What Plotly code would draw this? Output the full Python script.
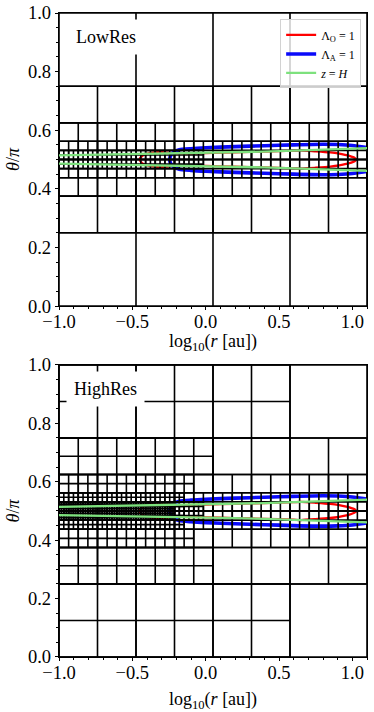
import plotly.graph_objects as go
from plotly.subplots import make_subplots

# domain of the mesh (log10 r, theta/pi) and root grid
X_MIN, X_MAX = -1.0, 1.1
Y_MIN, Y_MAX = 0.0, 1.0
NX_ROOT, NY_ROOT = 4, 4

# refined regions per level: (x_lo, x_hi, y_lo, y_hi)
lowres_levels = [
    (0, [(-1.0, 1.1, 0.0, 1.0)]),
    (1, [(-1.0, 1.1, 0.25, 0.75)]),
    (2, [(-1.0, 1.1, 0.375, 0.625)]),
    (3, [(-1.0, 1.1, 0.4375, 0.5625)]),
    (4, [(-1.0, -0.016, 0.46875, 0.53125)]),
]
highres_levels = [
    (0, [(-1.0, 1.1, 0.0, 1.0)]),
    (1, [(-1.0, 0.575, 0.75, 1.0), (-1.0, 1.1, 0.25, 0.75), (-1.0, 0.575, 0.0, 0.25)]),
    (2, [(-1.0, 0.05, 0.625, 0.75), (-1.0, 1.1, 0.375, 0.625), (-1.0, 0.05, 0.25, 0.375)]),
    (3, [(-1.0, -0.081, 0.5625, 0.625), (-1.0, 1.1, 0.4375, 0.5625), (-1.0, -0.081, 0.375, 0.4375)]),
    (4, [(-1.0, -0.147, 0.4375, 0.5625), (-1.0, -0.016, 0.46875, 0.53125)]),
    (5, [(-1.0, -0.2125, 0.46875, 0.53125)]),
]

# z = H surface
h_x = [-1.0, -0.8, -0.6, -0.4, -0.2, 0.0, 0.2, 0.4, 0.6, 0.8, 1.0, 1.1]
h_up = [0.514, 0.5155, 0.517, 0.5185, 0.520, 0.522, 0.5245, 0.527, 0.530, 0.5335, 0.537, 0.539]
h_lo = [0.486, 0.4845, 0.483, 0.4815, 0.480, 0.478, 0.4755, 0.473, 0.470, 0.4665, 0.463, 0.461]

# Lambda_A = 1 contour (open to the right)
amb_x = [1.1, 1.0, 0.9, 0.8, 0.6, 0.4, 0.2, 0.0, -0.1, -0.18, -0.22, -0.24, -0.245,
         -0.24, -0.22, -0.18, -0.1, 0.0, 0.2, 0.4, 0.6, 0.8, 0.9, 1.0, 1.1]
amb_y = [0.541, 0.548, 0.551, 0.552, 0.550, 0.547, 0.544, 0.540, 0.537, 0.533, 0.525, 0.512, 0.500,
         0.488, 0.475, 0.467, 0.463, 0.460, 0.456, 0.453, 0.450, 0.448, 0.449, 0.452, 0.459]

# Lambda_O = 1 contour (closed)
ohm_x = [-0.45, -0.44, -0.42, -0.39, -0.35, -0.3, -0.25, -0.2, 0.0, 0.2, 0.4, 0.6, 0.65, 0.75,
         0.85, 0.91, 0.95, 0.98, 1.005, 1.02, 1.03,
         1.02, 1.005, 0.98, 0.95, 0.91, 0.85, 0.75, 0.65, 0.6, 0.4, 0.2, 0.0, -0.2, -0.25, -0.3, -0.35,
         -0.39, -0.42, -0.44, -0.45]
ohm_y = [0.500, 0.509, 0.516, 0.521, 0.524, 0.525, 0.523, 0.520, 0.522, 0.5245, 0.527, 0.530, 0.531, 0.528,
         0.524, 0.520, 0.516, 0.5125, 0.508, 0.504, 0.500,
         0.496, 0.492, 0.4875, 0.484, 0.480, 0.476, 0.472, 0.469, 0.470, 0.473, 0.4755, 0.478, 0.480,
         0.477, 0.475, 0.476, 0.479, 0.484, 0.491, 0.500]

x_ticks = [-1.0, -0.5, 0.0, 0.5, 1.0]
y_ticks = [0.0, 0.2, 0.4, 0.6, 0.8, 1.0]
panel_names = ["LowRes", "HighRes"]

FONT = "Liberation Serif"


def mesh_lines(levels):
    xs, ys = [], []
    for lev, regions in levels:
        dx = (X_MAX - X_MIN) / (NX_ROOT * 2 ** lev)
        dy = (Y_MAX - Y_MIN) / (NY_ROOT * 2 ** lev)
        for xa, xb, ya, yb in regions:
            i0, i1 = round((xa - X_MIN) / dx), round((xb - X_MIN) / dx)
            j0, j1 = round((ya - Y_MIN) / dy), round((yb - Y_MIN) / dy)
            x0, x1 = X_MIN + i0 * dx, X_MIN + i1 * dx
            y0, y1 = Y_MIN + j0 * dy, Y_MIN + j1 * dy
            for i in range(i0, i1 + 1):
                xv = X_MIN + i * dx
                xs += [xv, xv, None]
                ys += [y0, y1, None]
            for j in range(j0, j1 + 1):
                yv = Y_MIN + j * dy
                xs += [x0, x1, None]
                ys += [yv, yv, None]
    return xs, ys


fig = make_subplots(rows=2, cols=1)

for row, levels in enumerate([lowres_levels, highres_levels], start=1):
    first = row == 1
    fig.add_trace(go.Scatter(x=ohm_x, y=ohm_y, mode="lines",
                             line=dict(color="red", width=2.3, shape="spline", smoothing=0.6),
                             name="Λ<sub>O</sub> = 1", showlegend=first, legendrank=1),
                  row=row, col=1)
    fig.add_trace(go.Scatter(x=amb_x, y=amb_y, mode="lines",
                             line=dict(color="rgb(10,10,250)", width=3.6, shape="spline", smoothing=0.6),
                             name="Λ<sub>A</sub> = 1", showlegend=first, legendrank=2),
                  row=row, col=1)
    gx, gy = mesh_lines(levels)
    fig.add_trace(go.Scatter(x=gx, y=gy, mode="lines",
                             line=dict(color="black", width=1.6),
                             showlegend=False, hoverinfo="skip"),
                  row=row, col=1)
    fig.add_trace(go.Scatter(x=h_x, y=h_up, mode="lines",
                             line=dict(color="rgb(125,225,125)", width=2.3),
                             name="<i>z</i> = <i>H</i>", legendgroup="h",
                             showlegend=first, legendrank=3),
                  row=row, col=1)
    fig.add_trace(go.Scatter(x=h_x, y=h_lo, mode="lines",
                             line=dict(color="rgb(125,225,125)", width=2.3),
                             legendgroup="h", showlegend=False),
                  row=row, col=1)

axis_common = dict(
    showline=True, linecolor="black", linewidth=1.4, mirror=True,
    showgrid=False, zeroline=False, automargin=False, ticklabeloverflow="allow",
    ticks="outside", ticklen=3, tickwidth=1, tickcolor="black",
    tickfont=dict(family=FONT, size=18.5, color="black"),
)
for row in (1, 2):
    fig.update_xaxes(axis_common, range=[X_MIN, X_MAX], tickvals=x_ticks, tickformat=".1f",
                     ticklabelstandoff=-4,
                     minor=dict(dtick=0.1, ticks="outside", ticklen=2, tickcolor="black"),
                     row=row, col=1)
    fig.update_yaxes(axis_common, range=[Y_MIN, Y_MAX], tickvals=y_ticks, tickformat=".1f",
                     minor=dict(dtick=0.05, ticks="outside", ticklen=2, tickcolor="black"),
                     title=dict(text="<i>θ</i>/<i>π</i>", standoff=3,
                                font=dict(family=FONT, size=18, color="black")),
                     row=row, col=1)

fig.update_layout(
    width=374, height=712,
    margin=dict(l=59, r=7, t=13, b=55),
    plot_bgcolor="white", paper_bgcolor="white",
    xaxis=dict(domain=[0, 1]), xaxis2=dict(domain=[0, 1]),
    yaxis=dict(domain=[0.545, 1.0]), yaxis2=dict(domain=[0.0, 0.4535]),
    legend=dict(x=0.981, y=0.99, xanchor="right", yanchor="top",
                bgcolor="rgba(255,255,255,0.8)", bordercolor="rgb(210,210,210)", borderwidth=1,
                font=dict(family=FONT, size=12, color="black"),
                itemwidth=30, tracegroupgap=0),
    font=dict(family=FONT, color="black"),
)

# x-axis titles
for ypos in (0.4876, -0.068):
    fig.add_annotation(x=0.5, y=ypos, xref="paper", yref="paper", yanchor="middle",
                       text="log<sub>10</sub>(<i>r</i> [au])", showarrow=False,
                       font=dict(family=FONT, size=18, color="black"))

for row, name in enumerate(panel_names, start=1):
    fig.add_annotation(x=-0.68, y=0.918, xref=f"x{'' if row == 1 else row}",
                       yref=f"y{'' if row == 1 else row}", text=name, showarrow=False,
                       font=dict(family=FONT, size=18, color="black"),
                       bgcolor="white", borderpad=7)

# drop the page's default body margin so the figure fills the window
fig.write_html("out.html", config={"displayModeBar": False},
               post_script="document.body.style.margin='0';")
